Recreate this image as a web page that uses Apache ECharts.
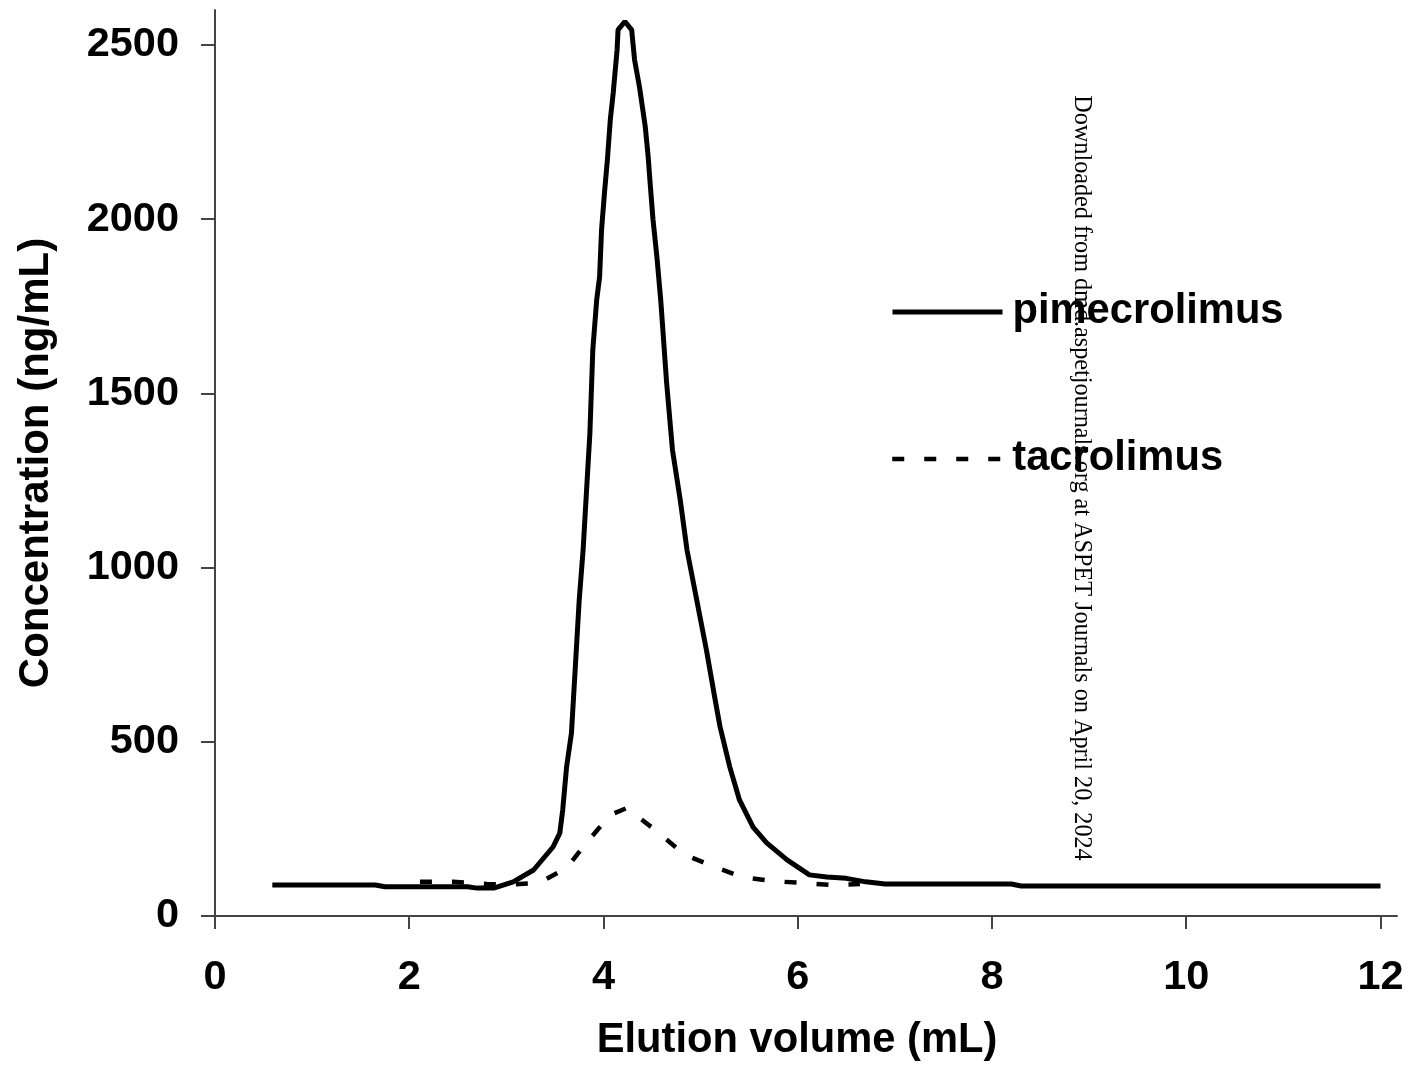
<!DOCTYPE html>
<html>
<head>
<meta charset="utf-8">
<script src="https://cdn.jsdelivr.net/npm/echarts@6/dist/echarts.min.js"></script>
<style>
html,body{margin:0;padding:0;background:#fff;}
#chart{width:1408px;height:1067px;}
</style>
</head>
<body>
<div id="chart"></div>
<script>
// ---- data ----
const pimeX = [0.59, 1.65, 1.75, 2.6, 2.7, 2.87, 3.07, 3.28, 3.48, 3.55, 3.58, 3.62, 3.67, 3.71, 3.75, 3.79, 3.83, 3.86, 3.89, 3.93, 3.96, 3.98, 4.01, 4.04, 4.07, 4.10, 4.14, 4.15, 4.22, 4.29, 4.32, 4.37, 4.43, 4.46, 4.48, 4.51, 4.55, 4.59, 4.65, 4.71, 4.79, 4.86, 4.96, 5.06, 5.15, 5.2, 5.3, 5.4, 5.54, 5.68, 5.89, 6.12, 6.3, 6.5, 6.7, 6.9, 8.2, 8.3, 12.0];
const pimeY = [89, 89, 84, 84, 80, 80, 98, 132, 198, 238, 304, 428, 525, 715, 907, 1050, 1243, 1386, 1625, 1768, 1834, 1969, 2075, 2170, 2285, 2362, 2486, 2543, 2567, 2543, 2457, 2380, 2265, 2179, 2104, 1998, 1891, 1765, 1530, 1338, 1194, 1050, 907, 763, 620, 543, 428, 333, 255, 210, 161, 118, 112, 108, 98, 92, 92, 86, 86];
const tacroX = [2.11, 2.45, 2.8, 3.0, 3.34, 3.62, 3.83, 4.07, 4.24, 4.53, 4.84, 5.17, 5.43, 5.74, 6.04, 6.36, 6.64];
const tacroY = [98, 98, 92, 90, 95, 138, 212, 290, 310, 247, 175, 138, 112, 100, 95, 89, 92];
const xTicks = [0, 2, 4, 6, 8, 10, 12];
const yTicks = [0, 500, 1000, 1500, 2000, 2500];
const seriesNames = ['pimecrolimus', 'tacrolimus'];
const xTitle = 'Elution volume (mL)';
const yTitle = 'Concentration (ng/mL)';
const watermark = 'Downloaded from dmd.aspetjournals.org at ASPET Journals on April 20, 2024';

const pimeData = pimeX.map((x, i) => [x, pimeY[i]]);
const tacroData = tacroX.map((x, i) => [x, tacroY[i]]);

const FONT = 'Liberation Sans, Arial, sans-serif';
const axisColor = '#444';
const dash = [12, 20];

const chart = echarts.init(document.getElementById('chart'));
chart.setOption({
  animation: false,
  backgroundColor: '#fff',
  grid: { left: 215, right: 11, top: 10, bottom: 151, containLabel: false },
  xAxis: {
    type: 'value', min: 0, max: 12.17,
    name: xTitle, nameLocation: 'middle', nameGap: 104,
    nameTextStyle: { fontFamily: FONT, fontWeight: 'bold', fontSize: 41.7, color: '#000', padding: [0, 18, 0, 0] },
    axisLine: { show: true, lineStyle: { color: axisColor, width: 2 } },
    axisTick: { show: true, length: 13, lineStyle: { color: axisColor, width: 2 }, customValues: xTicks },
    axisLabel: { show: true, margin: 41, fontFamily: FONT, fontWeight: 'bold', fontSize: 41.5, color: '#000', customValues: xTicks, formatter: v => String(v) },
    splitLine: { show: false }
  },
  yAxis: {
    type: 'value', min: 0, max: 2600,
    name: yTitle, nameLocation: 'middle', nameGap: 158, nameRotate: 90,
    nameTextStyle: { fontFamily: FONT, fontWeight: 'bold', fontSize: 42, color: '#000' },
    axisLine: { show: true, lineStyle: { color: axisColor, width: 2 } },
    axisTick: { show: true, length: 14, lineStyle: { color: axisColor, width: 2 }, customValues: yTicks },
    axisLabel: { show: true, margin: 36, fontFamily: FONT, fontWeight: 'bold', fontSize: 41.5, color: '#000', customValues: yTicks, formatter: v => String(v) },
    splitLine: { show: false }
  },
  legend: [
    {
      data: [seriesNames[0]], left: 890, top: 291, orient: 'vertical', padding: 0,
      itemWidth: 110, itemHeight: 14,
      itemStyle: { color: 'transparent', borderWidth: 0, opacity: 0 },
      lineStyle: { width: 5, color: '#000', type: 'solid', opacity: 1 },
      textStyle: { fontFamily: FONT, fontWeight: 'bold', fontSize: 41.7, color: '#000', padding: [0, 0, 14, 5] }
    },
    {
      data: [seriesNames[1]], left: 890, top: 438, orient: 'vertical', padding: 0,
      itemWidth: 110, itemHeight: 14,
      itemStyle: { color: 'transparent', borderWidth: 0, opacity: 0 },
      lineStyle: { width: 4.5, color: '#000', type: dash, opacity: 1 },
      textStyle: { fontFamily: FONT, fontWeight: 'bold', fontSize: 41.7, color: '#000', padding: [0, 0, 14, 5] }
    }
  ],
  series: [
    {
      name: seriesNames[0], type: 'line', data: pimeData, showSymbol: false, symbol: 'none',
      lineStyle: { color: '#000', width: 5 }, itemStyle: { color: '#000' }
    },
    {
      name: seriesNames[1], type: 'line', data: tacroData, showSymbol: false, symbol: 'none',
      lineStyle: { color: '#000', width: 4.5, type: dash }, itemStyle: { color: '#000' }
    }
  ],
  graphic: [
    {
      type: 'text', x: 1081, y: 478, rotation: -Math.PI / 2, z: 100,
      style: { text: watermark, font: '24.2px "Liberation Serif", "Times New Roman", serif', fill: '#000', align: 'center', verticalAlign: 'middle' }
    }
  ]
});
</script>
</body>
</html>
